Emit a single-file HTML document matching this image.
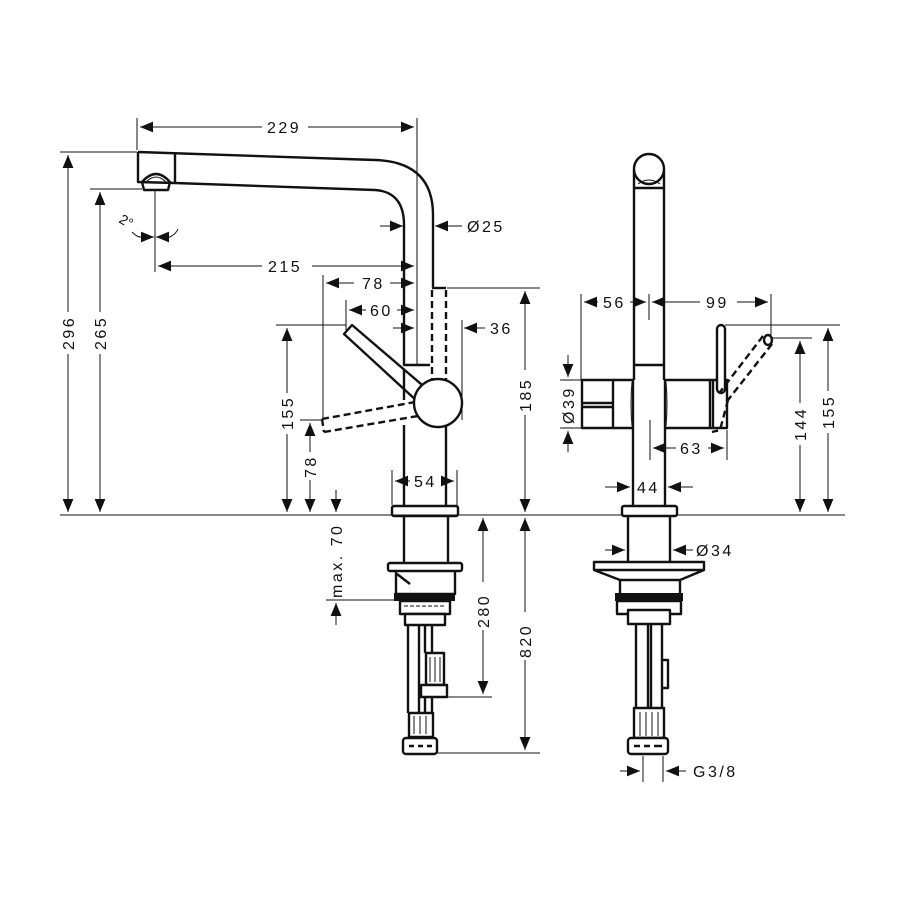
<!DOCTYPE html>
<html><head><meta charset="utf-8"><style>
html,body{margin:0;padding:0;background:#fff;}
svg{display:block}
text{font-family:"Liberation Sans",sans-serif;font-size:16px;letter-spacing:2.5px;fill:#111}
.b{fill:none;stroke:#111;stroke-width:2.4;stroke-linejoin:round}
.bf{fill:#fff;stroke:#111;stroke-width:2.4;stroke-linejoin:round}
.d{fill:none;stroke:#111;stroke-width:1}
.ds{fill:none;stroke:#111;stroke-width:2.4;stroke-dasharray:7 4}
</style></head><body>
<svg width="900" height="900" viewBox="0 0 900 900" xmlns="http://www.w3.org/2000/svg">
<defs>
<marker id="a" viewBox="0 0 12 10" refX="12" refY="5" markerWidth="13" markerHeight="11" markerUnits="userSpaceOnUse" orient="auto-start-reverse"><path d="M0,0L12,5L0,10z" fill="#111"/></marker>
</defs>

<!-- ========== LEFT VIEW ========== -->
<path class="b" d="M138,152 L375,160 Q433,162 433,215 L433,288"/>
<path class="b" d="M175,183 L375,190 Q404,192 404,225 L404,365 L430,365"/>
<path class="b" d="M138,152 L138,182 L175,183 L175,153"/>
<path class="b" d="M142,182 Q156,166 170,182 L168,190 L144,190 Z"/>
<path class="d" d="M146,182 Q156,172 166,182"/>
<path class="b" d="M432,288 L446,288"/>
<path class="ds" d="M432,290 L432,382 M446,290 L446,380"/>
<path class="bf" d="M344,334 L352,325 L428,390 L418,402 Z"/>
<path class="ds" d="M322,419 L415,402 M324,432 L418,416 M322,419 L324,432"/>
<path class="b" d="M404,370 L404,400"/>
<path class="b" d="M404,425 L404,505 M446,425 L446,505"/>
<circle class="bf" cx="438" cy="403" r="24"/>
<rect class="bf" x="392" y="506" width="66" height="10" rx="2"/>
<path class="b" d="M404,516 L404,563 M448,516 L448,563"/>
<rect class="bf" x="388" y="563" width="74" height="8" rx="2"/>
<path class="b" d="M396,571 L396,594 L455,594 L455,571"/>
<path class="b" d="M397,574 L410,584"/>
<rect x="394" y="593" width="61" height="8" fill="#111"/>
<rect class="bf" x="400" y="601" width="50" height="13"/>
<path class="d" d="M404,606 L446,606" stroke-dasharray="4 2"/>
<rect class="bf" x="405" y="614" width="40" height="11"/>
<path class="b" d="M408,625 L408,713 M419,625 L419,713 M425,625 L425,653 M432,625 L432,653"/>
<rect class="bf" x="426" y="653" width="18" height="32"/>
<path class="d" d="M430,657 L430,682 M435,657 L435,682 M440,657 L440,682"/>
<rect class="bf" x="421" y="685" width="26" height="12"/>
<path class="b" d="M425,697 L425,713 M432,697 L432,713"/>
<rect class="bf" x="409" y="713" width="24" height="24"/>
<path class="d" d="M414,716 L414,734 M420,716 L420,734 M426,716 L426,734"/>
<rect class="bf" x="403" y="738" width="34" height="16" rx="3"/>
<path class="b" d="M409,746 L414,746 M418,746 L423,746 M427,746 L432,746"/>

<!-- left dims -->
<path class="d" d="M137,118 L137,150 M417,118 L417,365 M60,152 L137,152 M90,189 L142,189 M155,190 L155,272 M60,515 L845,515"/>
<path class="d" d="M140,127 L262,127 M308,127 L414,127" marker-start="url(#a)" marker-end="url(#a)"/>
<text x="267" y="133">229</text>
<path class="d" d="M68,155 L68,312 M68,354 L68,512" marker-start="url(#a)" marker-end="url(#a)"/>
<text transform="translate(74,350) rotate(-90)">296</text>
<path class="d" d="M100,192 L100,312 M100,354 L100,512" marker-start="url(#a)" marker-end="url(#a)"/>
<text transform="translate(106,350) rotate(-90)">265</text>
<path class="d" d="M140,237 L154,237" marker-end="url(#a)"/><path class="d" d="M170,237 L156,237" marker-end="url(#a)"/>
<path class="d" d="M132,232 Q138,238 142,237 M170,237 Q176,234 178,229"/>
<text transform="translate(118,222) rotate(30)" style="font-size:14px;letter-spacing:0">2°</text>
<path class="d" d="M158,266 L262,266 M312,266 L414,266" marker-start="url(#a)" marker-end="url(#a)"/>
<text x="268" y="272">215</text>
<path class="d" d="M380,226 L403,226" marker-end="url(#a)"/><path class="d" d="M462,226 L435,226" marker-end="url(#a)"/>
<text x="467" y="232">Ø25</text>
<path class="d" d="M323,275 L323,420"/>
<path class="d" d="M326,283 L354,283 M390,283 L414,283" marker-start="url(#a)" marker-end="url(#a)"/>
<text x="362" y="289">78</text>
<path class="d" d="M346,300 L346,330"/>
<path class="d" d="M349,310 L366,310 M397,310 L414,310" marker-start="url(#a)" marker-end="url(#a)"/>
<text x="370" y="316">60</text>
<path class="d" d="M393,328 L414,328" marker-end="url(#a)"/>
<path class="d" d="M462,320 L462,420"/>
<path class="d" d="M485,328 L464,328" marker-end="url(#a)"/>
<text x="490" y="334">36</text>
<path class="d" d="M447,288 L540,288"/>
<path class="d" d="M525,291 L525,370 M525,415 L525,512" marker-start="url(#a)" marker-end="url(#a)"/>
<text transform="translate(531,412) rotate(-90)">185</text>
<path class="d" d="M276,325 L346,325"/>
<path class="d" d="M287,328 L287,393 M287,434 L287,512" marker-start="url(#a)" marker-end="url(#a)"/>
<text transform="translate(293,430) rotate(-90)">155</text>
<path class="d" d="M300,420 L322,420"/>
<path class="d" d="M310,423 L310,452 M310,480 L310,512" marker-start="url(#a)" marker-end="url(#a)"/>
<text transform="translate(316,478) rotate(-90)">78</text>
<path class="d" d="M336,490 L336,512" marker-end="url(#a)"/>
<path class="d" d="M336,625 L336,603" marker-end="url(#a)"/>
<path class="d" d="M326,600 L394,600"/>
<text transform="translate(342,598) rotate(-90)">max. 70</text>
<path class="d" d="M392,470 L392,505 M457,470 L457,505"/>
<path class="d" d="M395,481 L410,481 M443,481 L454,481" marker-start="url(#a)" marker-end="url(#a)"/>
<text x="414" y="487">54</text>
<path class="d" d="M447,697 L492,697"/>
<path class="d" d="M483,518 L483,582 M483,630 L483,694" marker-start="url(#a)" marker-end="url(#a)"/>
<text transform="translate(489,628) rotate(-90)">280</text>
<path class="d" d="M437,753 L540,753"/>
<path class="d" d="M525,518 L525,612 M525,660 L525,750" marker-start="url(#a)" marker-end="url(#a)"/>
<text transform="translate(531,658) rotate(-90)">820</text>

<!-- ========== RIGHT VIEW ========== -->
<path class="b" d="M634,170 L634,380 M664,170 L664,380"/>
<circle class="bf" cx="649" cy="169" r="15"/>
<path class="b" d="M634,188 L664,188"/>
<path class="d" d="M638,184 Q649,176 660,184"/>
<path class="b" d="M634,365 L664,365"/>
<rect class="bf" x="582" y="380" width="31" height="48"/>
<path class="b" d="M582,403 L613,403 M582,407 L613,407"/>
<path class="b" d="M613,380 L633,380 M613,428 L633,428 M665,380 L710,380 M665,428 L710,428"/>
<path class="d" d="M632,382 Q630,404 632,426 M666,382 Q668,404 666,426"/>
<rect class="bf" x="710" y="380" width="17" height="48"/>
<path class="b" d="M713,380 L713,428"/>
<path class="b" d="M633,380 L633,505 M665,380 L665,505"/>
<rect class="bf" x="717" y="325" width="8" height="68" rx="4"/>
<path class="ds" d="M763,336 L720,392 M772,344 L728,400 M728,400 L720,430 L712,432"/>
<ellipse class="b" cx="768" cy="340" rx="4" ry="5"/>
<rect class="bf" x="622" y="506" width="55" height="10" rx="2"/>
<path class="b" d="M628,516 L628,562 M670,516 L670,562"/>
<path class="bf" d="M594,562 L704,562 L704,570 L680,580 L620,580 L594,570 Z"/>
<path class="b" d="M594,570 L704,570"/>
<path class="b" d="M620,580 L620,594 M680,580 L680,594"/>
<rect x="615" y="593" width="68" height="8" fill="#111"/>
<rect class="bf" x="617" y="601" width="64" height="13"/>
<rect class="bf" x="628" y="610" width="42" height="14"/>
<path class="b" d="M636,624 L636,708 M648,624 L648,708 M651,624 L651,708 M662,624 L662,708"/>
<path class="b" d="M662,660 L668,660 L668,688 L662,688"/>
<rect class="bf" x="634" y="708" width="30" height="30"/>
<path class="d" d="M640,712 L640,736 M646,712 L646,736 M652,712 L652,736 M658,712 L658,736"/>
<rect class="bf" x="628" y="738" width="40" height="16" rx="3"/>
<path class="b" d="M634,746 L640,746 M644,746 L650,746 M654,746 L662,746"/>

<path class="d" d="M581,294 L581,380 M771,294 L771,340 M649,294 L649,320"/>
<path class="d" d="M584,302 L598,302 M630,302 L646,302" marker-start="url(#a)" marker-end="url(#a)"/>
<text x="603" y="308">56</text>
<path class="d" d="M652,302 L700,302 M737,302 L768,302" marker-start="url(#a)" marker-end="url(#a)"/>
<text x="706" y="308">99</text>
<path class="d" d="M560,380 L582,380 M560,428 L582,428"/>
<path class="d" d="M568,355 L568,377" marker-end="url(#a)"/><path class="d" d="M568,452 L568,431" marker-end="url(#a)"/>
<text transform="translate(574,424) rotate(-90)">Ø39</text>
<path class="d" d="M650,420 L650,460 M727,430 L727,460"/>
<path class="d" d="M653,448 L676,448 M708,448 L724,448" marker-start="url(#a)" marker-end="url(#a)"/>
<text x="680" y="454">63</text>
<path class="d" d="M605,487 L630,487" marker-end="url(#a)"/><path class="d" d="M693,487 L668,487" marker-end="url(#a)"/>
<text x="637" y="493">44</text>
<path class="d" d="M605,550 L625,550" marker-end="url(#a)"/><path class="d" d="M693,550 L673,550" marker-end="url(#a)"/>
<text x="696" y="556">Ø34</text>
<path class="d" d="M643,756 L643,782 M663,756 L663,782"/>
<path class="d" d="M620,771 L640,771" marker-end="url(#a)"/><path class="d" d="M686,771 L666,771" marker-end="url(#a)"/>
<text x="693" y="777">G3/8</text>
<path class="d" d="M725,325 L840,325 M772,338 L812,338"/>
<path class="d" d="M800,341 L800,403 M800,445 L800,512" marker-start="url(#a)" marker-end="url(#a)"/>
<text transform="translate(806,441) rotate(-90)">144</text>
<path class="d" d="M828,328 L828,391 M828,433 L828,512" marker-start="url(#a)" marker-end="url(#a)"/>
<text transform="translate(834,429) rotate(-90)">155</text>
</svg>
</body></html>
